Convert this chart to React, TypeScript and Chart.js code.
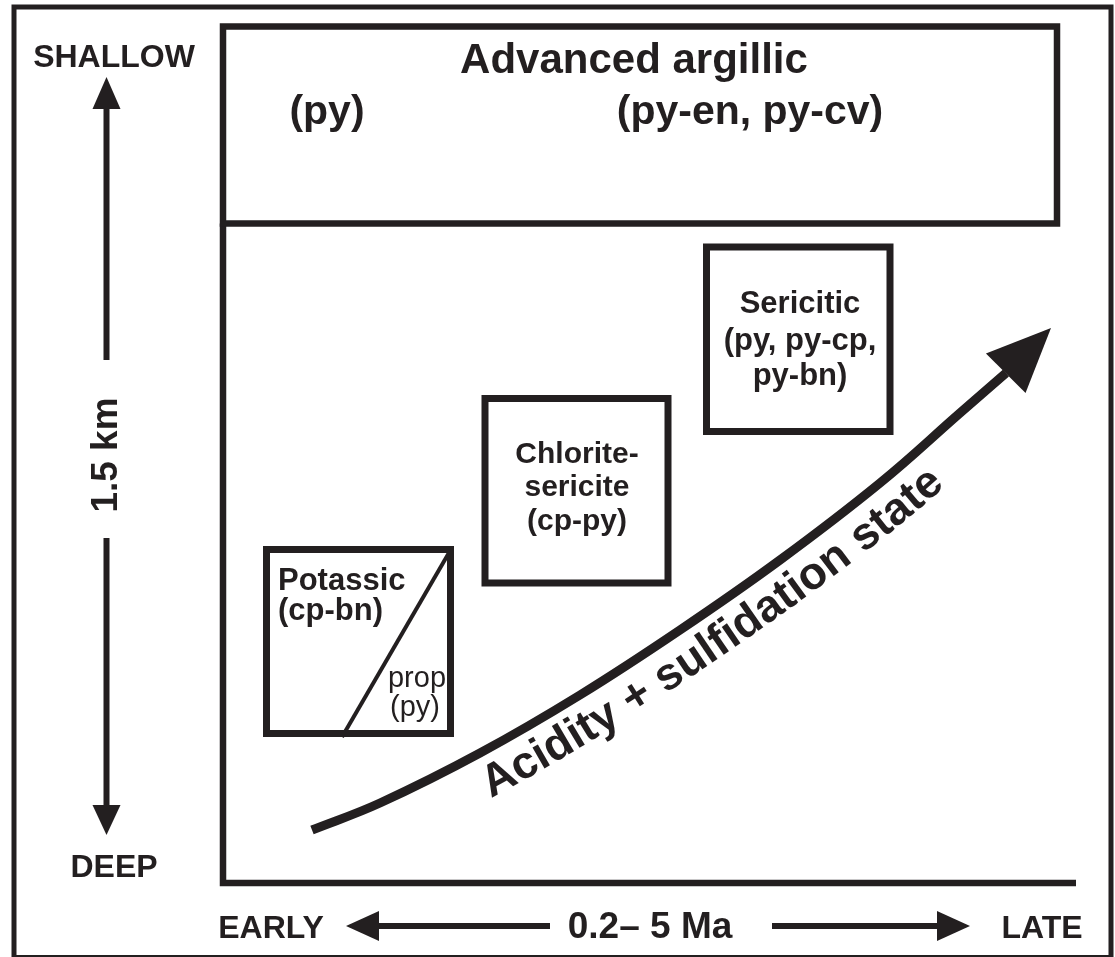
import React, { useEffect, useRef } from "react";
import { Chart, registerables } from "chart.js";

Chart.register(...registerables);

const FONT = '"Liberation Sans", Arial, Helvetica, sans-serif';
const INK = "#231f20";

// Diagram space: x = relative time (early -> late), y = relative depth (shallow at top)
const X_MAX = 1115;
const Y_MAX = 957;

type P = [number, number];

const outerFrame: P[] = [[14, 7], [1111, 7], [1111, 957.5], [14, 957.5], [14, 7]];
const advancedArgillicBox: P[] = [[223, 26.5], [1057, 26.5], [1057, 223.5], [223, 223.5], [223, 26.5]];
const timeDepthAxes: P[] = [[223, 223.5], [223, 883], [1076, 883]];
const potassicBox: P[] = [[266.5, 549.5], [450.5, 549.5], [450.5, 733.5], [266.5, 733.5], [266.5, 549.5]];
const propyliticDivider: P[] = [[450, 551], [342, 737]];
const chloriteSericiteBox: P[] = [[485, 398.5], [668, 398.5], [668, 583], [485, 583], [485, 398.5]];
const sericiticBox: P[] = [[706.5, 247], [890, 247], [890, 431.5], [706.5, 431.5], [706.5, 247]];
const trendCurve: P[] = [[312, 830], [380, 803], [480, 753], [580, 695], [680, 630], [780, 560], [880, 483], [960, 413], [1006, 373]];

// arrows: shaft start, tip, head length, head half-width
type Arrow = { from: P; tip: P; len: number; half: number; width: number };
const arrows: Arrow[] = [
  { from: [106.5, 360], tip: [106.5, 77], len: 32, half: 14, width: 6 },
  { from: [106.5, 538], tip: [106.5, 835], len: 30, half: 14, width: 6 },
  { from: [550, 926], tip: [346, 926], len: 33, half: 15, width: 6 },
  { from: [772, 926], tip: [970, 926], len: 33, half: 15, width: 6 },
];
const trendArrowTip: P = [1051, 328];
const trendHead = { len: 64, half: 28 };

type Label = { text: string; x: number; y: number; size: number; bold: boolean; align?: CanvasTextAlign; rotate?: number };
const axisLabels: Label[] = [
  { text: "SHALLOW", x: 114, y: 67, size: 32, bold: true },
  { text: "DEEP", x: 114, y: 877, size: 32, bold: true },
  { text: "1.5 km", x: 117, y: 455, size: 37, bold: true, rotate: -90 },
  { text: "EARLY", x: 271, y: 938, size: 32, bold: true },
  { text: "0.2\u2013 5 Ma", x: 650, y: 938, size: 37, bold: true },
  { text: "LATE", x: 1042, y: 938, size: 32, bold: true },
];
const zoneLabels: Label[] = [
  { text: "Advanced argillic", x: 634, y: 73, size: 42, bold: true },
  { text: "(py)", x: 327, y: 124, size: 41, bold: true },
  { text: "(py-en, py-cv)", x: 750, y: 124, size: 41, bold: true },
  { text: "Potassic", x: 278, y: 590, size: 31, bold: true, align: "left" },
  { text: "(cp-bn)", x: 278, y: 620, size: 31, bold: true, align: "left" },
  { text: "prop", x: 417, y: 687, size: 29, bold: false },
  { text: "(py)", x: 415, y: 716, size: 29, bold: false },
  { text: "Chlorite-", x: 577, y: 463, size: 30, bold: true },
  { text: "sericite", x: 577, y: 496, size: 30, bold: true },
  { text: "(cp-py)", x: 577, y: 530, size: 30, bold: true },
  { text: "Sericitic", x: 800, y: 313, size: 31, bold: true },
  { text: "(py, py-cp,", x: 800, y: 350, size: 31, bold: true },
  { text: "py-bn)", x: 800, y: 385, size: 31, bold: true },
];
const trendLabel = "Acidity + sulfidation state";
const trendLabelSize = 45.5;
const trendLabelOffset = 45;
const trendLabelStartX = 488;

const toXY = (pts: P[]) => pts.map(([x, y]) => ({ x, y }));

function shaftOf(a: Arrow): P[] {
  const dx = a.tip[0] - a.from[0];
  const dy = a.tip[1] - a.from[1];
  const L = Math.hypot(dx, dy);
  return [a.from, [a.tip[0] - (dx / L) * (a.len - 2), a.tip[1] - (dy / L) * (a.len - 2)]];
}

function lineDs(pts: P[], width: number, extra: any = {}) {
  return {
    data: toXY(pts),
    showLine: true,
    borderColor: INK,
    backgroundColor: INK,
    borderWidth: width,
    pointRadius: 0,
    pointHoverRadius: 0,
    fill: false,
    tension: 0,
    borderJoinStyle: "miter",
    borderCapStyle: "square",
    clip: false,
    ...extra,
  };
}

function catmull(pts: { x: number; y: number }[], steps = 24) {
  const out: { x: number; y: number }[] = [];
  for (let i = 0; i < pts.length - 1; i++) {
    const p0 = pts[Math.max(i - 1, 0)], p1 = pts[i], p2 = pts[i + 1], p3 = pts[Math.min(i + 2, pts.length - 1)];
    for (let s = 0; s < steps; s++) {
      const t = s / steps, t2 = t * t, t3 = t2 * t;
      const f = (a: number, b: number, c: number, d: number) =>
        0.5 * (2 * b + (-a + c) * t + (2 * a - 5 * b + 4 * c - d) * t2 + (-a + 3 * b - 3 * c + d) * t3);
      out.push({ x: f(p0.x, p1.x, p2.x, p3.x), y: f(p0.y, p1.y, p2.y, p3.y) });
    }
  }
  out.push(pts[pts.length - 1]);
  return out;
}

const diagramPlugin = {
  id: "diagramDecor",
  afterDatasetsDraw(chart: any) {
    const ctx: CanvasRenderingContext2D = chart.ctx;
    const sx = chart.scales.x, sy = chart.scales.y;
    const px = (p: P) => ({ x: sx.getPixelForValue(p[0]), y: sy.getPixelForValue(p[1]) });
    ctx.save();
    ctx.fillStyle = INK;

    const head = (tip: { x: number; y: number }, ux: number, uy: number, len: number, half: number) => {
      const bx = tip.x - ux * len, by = tip.y - uy * len;
      ctx.beginPath();
      ctx.moveTo(tip.x, tip.y);
      ctx.lineTo(bx - uy * half, by + ux * half);
      ctx.lineTo(bx + uy * half, by - ux * half);
      ctx.closePath();
      ctx.fill();
    };
    arrows.forEach((a) => {
      const t = px(a.tip), f = px(a.from);
      const L = Math.hypot(t.x - f.x, t.y - f.y);
      head(t, (t.x - f.x) / L, (t.y - f.y) / L, a.len, a.half);
    });
    {
      const t = px(trendArrowTip), f = px(trendCurve[trendCurve.length - 1]);
      const L = Math.hypot(t.x - f.x, t.y - f.y);
      head(t, (t.x - f.x) / L, (t.y - f.y) / L, trendHead.len, trendHead.half);
    }

    const draw = (l: Label) => {
      const p = px([l.x, l.y]);
      ctx.save();
      ctx.font = `${l.bold ? "bold " : ""}${l.size}px ${FONT}`;
      ctx.textAlign = l.align || "center";
      ctx.textBaseline = "alphabetic";
      ctx.translate(p.x, p.y);
      if (l.rotate) ctx.rotate((l.rotate * Math.PI) / 180);
      ctx.fillText(l.text, 0, 0);
      ctx.restore();
    };
    axisLabels.forEach(draw);
    zoneLabels.forEach(draw);

    // text following the trend curve
    const pix = trendCurve.map((p) => px(p));
    const s = catmull(pix, 30);
    const off: { x: number; y: number }[] = s.map((p, i) => {
      const a = s[Math.max(i - 1, 0)], b = s[Math.min(i + 1, s.length - 1)];
      const dx = b.x - a.x, dy = b.y - a.y;
      const L = Math.hypot(dx, dy) || 1;
      return { x: p.x + (-dy / L) * trendLabelOffset, y: p.y + (dx / L) * trendLabelOffset };
    });
    const cum = [0];
    for (let i = 1; i < off.length; i++) cum.push(cum[i - 1] + Math.hypot(off[i].x - off[i - 1].x, off[i].y - off[i - 1].y));
    const at = (d: number) => {
      let i = 1;
      while (i < cum.length - 1 && cum[i] < d) i++;
      const a = off[i - 1], b = off[i];
      const seg = cum[i] - cum[i - 1] || 1;
      const t = (d - cum[i - 1]) / seg;
      return { x: a.x + (b.x - a.x) * t, y: a.y + (b.y - a.y) * t, ang: Math.atan2(b.y - a.y, b.x - a.x) };
    };
    let start = 0;
    const startPx = sx.getPixelForValue(trendLabelStartX);
    for (let i = 0; i < off.length; i++) {
      if (off[i].x >= startPx) { start = cum[i]; break; }
    }
    ctx.font = `bold ${trendLabelSize}px ${FONT}`;
    ctx.textAlign = "center";
    ctx.textBaseline = "alphabetic";
    let d = start;
    for (const ch of trendLabel) {
      const w = ctx.measureText(ch).width;
      const q = at(d + w / 2);
      ctx.save();
      ctx.translate(q.x, q.y);
      ctx.rotate(q.ang);
      ctx.fillText(ch, 0, 0);
      ctx.restore();
      d += w;
    }
    ctx.restore();
  },
};

export default function App() {
  const ref = useRef<HTMLCanvasElement>(null);
  useEffect(() => {
    document.body.style.margin = "0";
    const chart = new Chart(ref.current as HTMLCanvasElement, {
      type: "scatter",
      data: {
        datasets: [
          lineDs(outerFrame, 5) as any,
          lineDs(advancedArgillicBox, 6.5) as any,
          lineDs(timeDepthAxes, 6.5, { borderCapStyle: "butt" }) as any,
          lineDs(potassicBox, 7) as any,
          lineDs(propyliticDivider, 4, { borderCapStyle: "butt" }) as any,
          lineDs(chloriteSericiteBox, 7) as any,
          lineDs(sericiticBox, 7) as any,
          lineDs(trendCurve, 9, { tension: 0.4, borderCapStyle: "butt", borderJoinStyle: "round" }) as any,
          ...arrows.map((a) => lineDs(shaftOf(a), a.width, { borderCapStyle: "butt" }) as any),
        ],
      },
      options: {
        responsive: false,
        maintainAspectRatio: false,
        animation: false,
        devicePixelRatio: 1,
        layout: { padding: 0 },
        events: [],
        scales: {
          x: { type: "linear", min: 0, max: X_MAX, display: false },
          y: { type: "linear", min: 0, max: Y_MAX, reverse: true, display: false },
        },
        plugins: { legend: { display: false }, tooltip: { enabled: false }, title: { display: false } },
      },
      plugins: [diagramPlugin],
    });
    return () => chart.destroy();
  }, []);
  return (
    <div style={{ position: "fixed", left: 0, top: 0, width: X_MAX, height: Y_MAX, background: "#fff" }}>
      <canvas ref={ref} width={X_MAX} height={Y_MAX} style={{ display: "block" }} />
    </div>
  );
}
